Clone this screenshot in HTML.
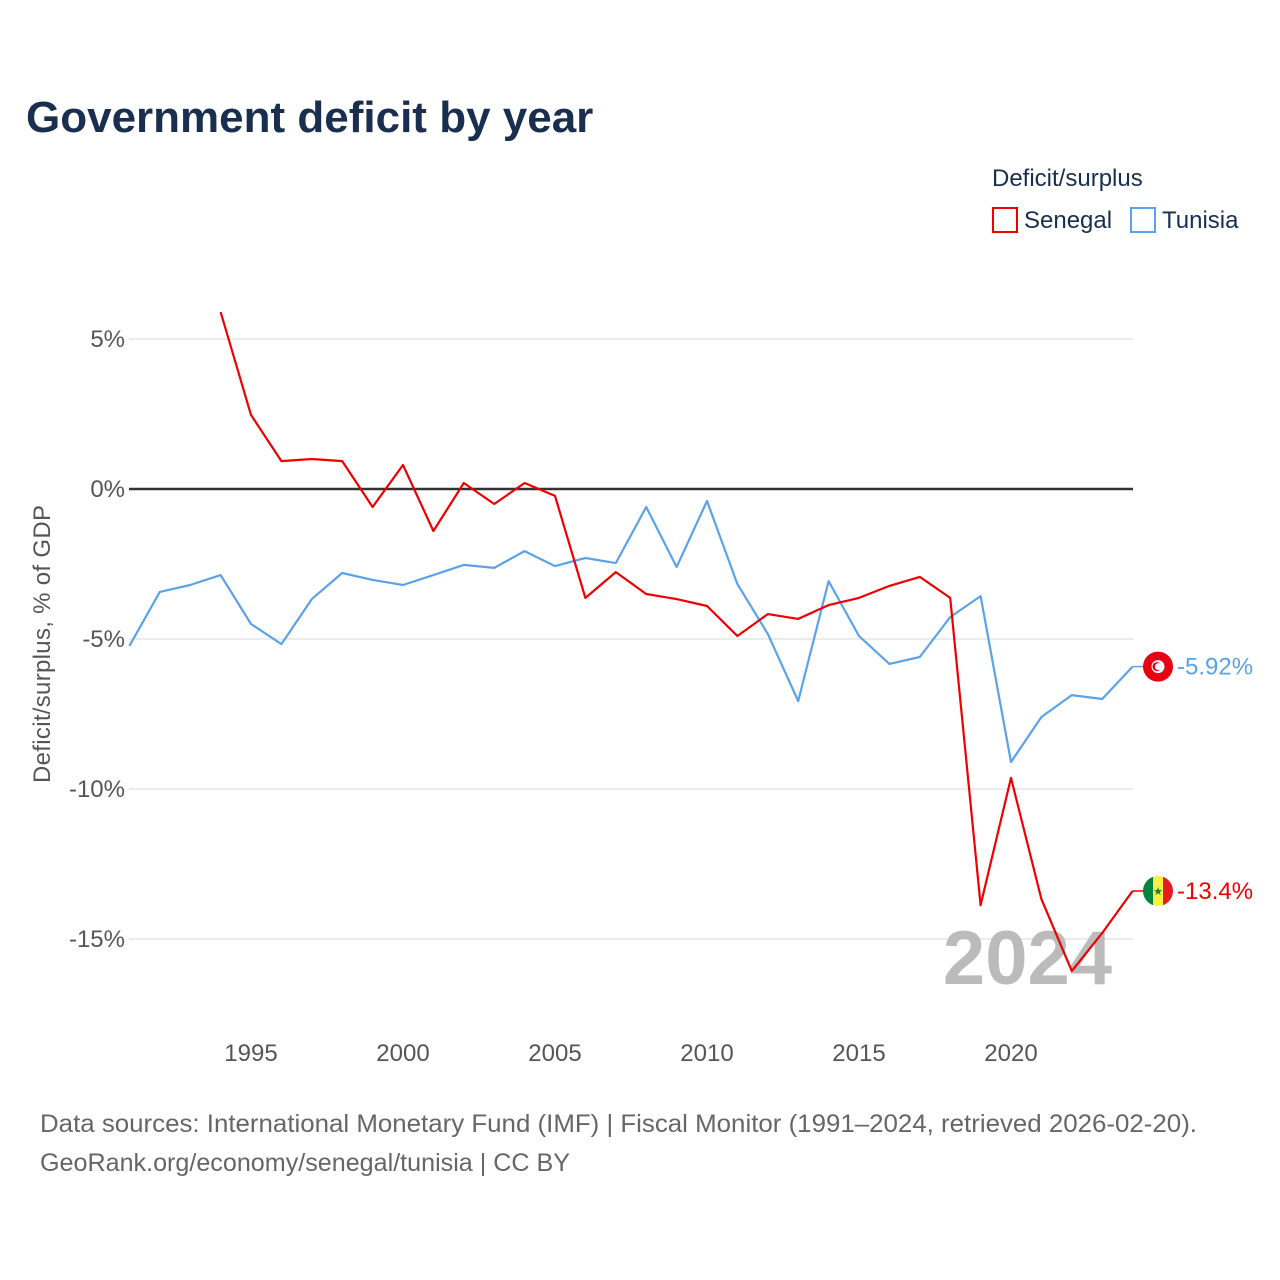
<!DOCTYPE html>
<html><head><meta charset="utf-8"><style>
body{margin:0;background:#fff;font-family:"Liberation Sans",sans-serif}
</style></head><body>
<svg id="chart" width="1280" height="1280" xmlns="http://www.w3.org/2000/svg" style="display:block">
<text x="26" y="132" font-size="44" font-weight="bold" fill="#1a2e4f">Government deficit by year</text>
<text x="992" y="186" font-size="24" fill="#1a2e4f">Deficit/surplus</text>
<g><rect x="993" y="208" width="24" height="24" fill="none" stroke="#ee0000" stroke-width="2"/><text x="1024" y="228" font-size="24" fill="#1a2e4f">Senegal</text></g>
<g><rect x="1131" y="208" width="24" height="24" fill="none" stroke="#5ba3e8" stroke-width="2"/><text x="1162" y="228" font-size="24" fill="#1a2e4f">Tunisia</text></g>
<g id="grid"></g>
<text x="1112" y="984" font-size="76" font-weight="bold" fill="#bbbbbb" text-anchor="end">2024</text>
<g id="series"></g>
<text transform="translate(50,644) rotate(-90)" font-size="24" fill="#555" text-anchor="middle" textLength="278">Deficit/surplus, % of GDP</text>
<text x="40" y="1132" font-size="25" fill="#666" textLength="1157" lengthAdjust="spacingAndGlyphs">Data sources: International Monetary Fund (IMF) | Fiscal Monitor (1991–2024, retrieved 2026-02-20).</text>
<text x="40" y="1171" font-size="25" fill="#666" textLength="530" lengthAdjust="spacingAndGlyphs">GeoRank.org/economy/senegal/tunisia | CC BY</text>
</svg>
<script>
const yTicks=[5,0,-5,-10,-15];
const xTicks=[1995,2000,2005,2010,2015,2020];
const senegalYears=[1994,1995,1996,1997,1998,1999,2000,2001,2002,2003,2004,2005,2006,2007,2008,2009,2010,2011,2012,2013,2014,2015,2016,2017,2018,2019,2020,2021,2022,2023,2024];
const senegalValues=[5.9,2.47,0.93,1.0,0.93,-0.6,0.8,-1.4,0.2,-0.5,0.2,-0.23,-3.63,-2.77,-3.5,-3.67,-3.9,-4.9,-4.17,-4.33,-3.87,-3.63,-3.23,-2.93,-3.63,-13.87,-9.63,-13.67,-16.07,-14.8,-13.4];
const tunisiaYears=[1991,1992,1993,1994,1995,1996,1997,1998,1999,2000,2001,2002,2003,2004,2005,2006,2007,2008,2009,2010,2011,2012,2013,2014,2015,2016,2017,2018,2019,2020,2021,2022,2023,2024];
const tunisiaValues=[-5.23,-3.43,-3.2,-2.87,-4.5,-5.17,-3.67,-2.8,-3.03,-3.2,-2.87,-2.53,-2.63,-2.07,-2.57,-2.3,-2.47,-0.6,-2.6,-0.4,-3.17,-4.83,-7.07,-3.07,-4.9,-5.83,-5.6,-4.27,-3.57,-9.1,-7.6,-6.87,-7.0,-5.92];
const NS="http://www.w3.org/2000/svg";
const x=yr=>129.4+(yr-1991)*30.4;
const y=v=>489-v*30;
function mk(tag,attrs,parent){const e=document.createElementNS(NS,tag);for(const k in attrs)e.setAttribute(k,attrs[k]);parent.appendChild(e);return e;}
const grid=document.getElementById('grid');
yTicks.forEach(t=>{
  const l=mk('line',{x1:129,x2:1133,y1:y(t),y2:y(t),stroke:t===0?'#333':'#e6e6e6','stroke-width':t===0?2.5:1.5},grid);
  
  
  const tx=mk('text',{x:125,y:y(t)+8,'font-size':24,fill:'#555','text-anchor':'end'},grid);
  tx.textContent=t+'%';
  
  
});
xTicks.forEach(t=>{
  const tx=mk('text',{x:x(t),y:1061,'font-size':24,fill:'#555','text-anchor':'middle'},grid);
  tx.textContent=t;
  
  
});
const s=document.getElementById('series');
function line(years,vals,color,name){
  const p=mk('polyline',{points:years.map((yr,i)=>x(yr)+','+y(vals[i])).join(' '),fill:'none',stroke:color,'stroke-width':2.2,'stroke-linejoin':'round'},s);
  
  
  const lastY=y(vals[vals.length-1]), lx=x(years[years.length-1]);
  mk('line',{x1:lx,x2:lx+12,y1:lastY,y2:lastY,stroke:color,'stroke-width':1.5},s);
  return lastY;
}
const ty=line(tunisiaYears,tunisiaValues,'#5ba3e8','tunisia-line');
const sy=line(senegalYears,senegalValues,'#ee0000','senegal-line');
const tf=mk('g',{},s);


mk('circle',{cx:1158,cy:ty,r:15,fill:'#e70013'},tf);
mk('circle',{cx:1158,cy:ty,r:6.5,fill:'#fff'},tf);
mk('circle',{cx:1157,cy:ty,r:4.5,fill:'#e70013'},tf);
mk('circle',{cx:1158.5,cy:ty,r:3.5,fill:'#fff'},tf);
const tl=mk('text',{x:1177,y:ty+8,'font-size':24,fill:'#5ba3e8'},s);
tl.textContent='-5.92%';


const sf=mk('g',{},s);


const cp=mk('clipPath',{id:'sc'},sf);
mk('circle',{cx:1158,cy:sy,r:15},cp);
mk('rect',{x:1143,y:sy-15,width:10,height:30,fill:'#00853f','clip-path':'url(#sc)'},sf);
mk('rect',{x:1153,y:sy-15,width:10,height:30,fill:'#fdef42','clip-path':'url(#sc)'},sf);
mk('rect',{x:1163,y:sy-15,width:10,height:30,fill:'#e31b23','clip-path':'url(#sc)'},sf);
const st=mk('text',{x:1158,y:sy+4,'font-size':11,fill:'#00853f','text-anchor':'middle'},sf);
st.textContent='★';
const sl=mk('text',{x:1177,y:sy+8,'font-size':24,fill:'#ee0000'},s);
sl.textContent='-13.4%';


</script>
</body></html>
